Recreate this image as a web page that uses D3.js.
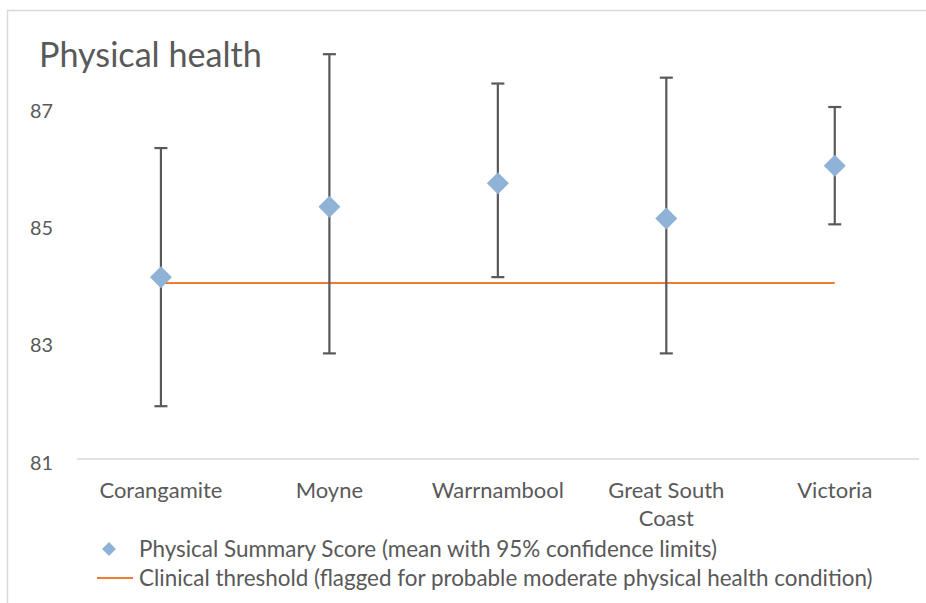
<!DOCTYPE html>
<html>
<head>
<meta charset="utf-8">
<script src="https://cdn.jsdelivr.net/npm/d3@7/dist/d3.min.js"></script>
<style>
  html, body { margin: 0; padding: 0; background: #fff; }
  svg { display: block; font-family: Lato, "Open Sans", sans-serif; }
</style>
</head>
<body>
<svg id="chart" width="926" height="603"></svg>
<script>
// Physical Summary Score by area, with 95% confidence limits
const categories = ["Corangamite", "Moyne", "Warrnambool", "Great South Coast", "Victoria"];
const means      = [84.1, 85.3, 85.7, 85.1, 86.0];
const lowerCL    = [81.9, 82.8, 84.1, 82.8, 85.0];
const upperCL    = [86.3, 87.9, 87.4, 87.5, 87.0];
const threshold  = [84, 84, 84, 84, 84];
const yTicks     = [81, 83, 85, 87];
const titleText  = "Physical health";
const legendLabels = [
  "Physical Summary Score (mean with 95% confidence limits)",
  "Clinical threshold (flagged for probable moderate physical health condition)"
];

const textColor = "#595959";
const svg = d3.select("#chart");

// outer chart frame (continues past the right and bottom edges)
svg.append("rect")
  .attr("x", 7.5).attr("y", 10.5)
  .attr("width", 960).attr("height", 640)
  .attr("fill", "none").attr("stroke", "#d9d9d9").attr("stroke-width", 1.5);

const x = d3.scaleBand().domain(categories).range([76.7, 919]);
const y = d3.scaleLinear().domain([81, 87]).range([459, 107]);
const cx = c => x(c) + x.bandwidth() / 2;

// fit a text group's font size so a reference element spans the given width
function fitWidth(sel, refNode, target, base) {
  sel.attr("font-size", base);
  const w = refNode.getComputedTextLength();
  sel.attr("font-size", base * target / w);
}

// title
const title = svg.append("text")
  .attr("x", 39).attr("y", 67)
  .attr("fill", textColor)
  .text(titleText);
fitWidth(title, title.node(), 223, 30);

// category axis line
svg.append("line")
  .attr("x1", x.range()[0]).attr("x2", x.range()[1])
  .attr("y1", y(81)).attr("y2", y(81))
  .attr("stroke", "#d9d9d9").attr("stroke-width", 1.5);

// y axis labels (no line, no ticks)
const yAxis = svg.append("g")
  .attr("transform", "translate(53,0)")
  .call(d3.axisLeft(y).tickValues(yTicks).tickSize(0).tickPadding(0).tickFormat(d3.format("d")));
yAxis.select(".domain").remove();
yAxis.selectAll("text")
  .attr("fill", textColor)
  .attr("font-family", "Lato, 'Open Sans', sans-serif")
  .attr("dy", "0.42em")
  .attr("transform", "translate(0,2)");
fitWidth(yAxis.selectAll("text"), yAxis.select("text").node(), 23, 18);

// x axis labels, wrapped within the band
const xAxis = svg.append("g")
  .attr("transform", `translate(0,${y(81)})`)
  .call(d3.axisBottom(x).tickSize(0).tickPadding(0));
xAxis.select(".domain").remove();
xAxis.selectAll("text")
  .attr("fill", textColor)
  .attr("font-family", "Lato, 'Open Sans', sans-serif")
  .attr("y", 31).attr("dy", "0.35em");
fitWidth(xAxis.selectAll("text"), xAxis.selectAll("text").nodes()[0], 123, 18);

xAxis.selectAll("text").each(function() {
  const t = d3.select(this);
  const words = t.text().split(/\s+/);
  const maxW = 150;
  t.text(null);
  let line = [];
  let tspan = t.append("tspan").attr("x", 0).attr("dy", "0.35em");
  let lineNo = 0;
  words.forEach(w => {
    line.push(w);
    tspan.text(line.join(" "));
    if (tspan.node().getComputedTextLength() > maxW && line.length > 1) {
      line.pop();
      tspan.text(line.join(" "));
      line = [w];
      lineNo++;
      tspan = t.append("tspan").attr("x", 0).attr("dy", "28px").text(w);
    }
  });
});

// clinical threshold line
const thresholdLine = d3.line()
  .x((d, i) => cx(categories[i]))
  .y(d => y(d));
svg.append("path")
  .datum(threshold)
  .attr("d", thresholdLine)
  .attr("fill", "none")
  .attr("stroke", "#ed7d31")
  .attr("stroke-width", 2.2);

// confidence interval error bars
const capHalf = 6.5;
const bars = svg.append("g").attr("stroke", "#595959").attr("stroke-width", 2.2);
categories.forEach((c, i) => {
  bars.append("line")
    .attr("x1", cx(c)).attr("x2", cx(c))
    .attr("y1", y(upperCL[i])).attr("y2", y(lowerCL[i]));
  bars.append("line")
    .attr("x1", cx(c) - capHalf).attr("x2", cx(c) + capHalf)
    .attr("y1", y(upperCL[i])).attr("y2", y(upperCL[i]));
  bars.append("line")
    .attr("x1", cx(c) - capHalf).attr("x2", cx(c) + capHalf)
    .attr("y1", y(lowerCL[i])).attr("y2", y(lowerCL[i]));
});

// diamond markers for the means
const diamond = r => `M0,${-r}L${r},0L0,${r}L${-r},0Z`;
svg.append("g").selectAll("path")
  .data(means)
  .join("path")
  .attr("d", diamond(11))
  .attr("transform", (d, i) => `translate(${cx(categories[i])},${y(d)})`)
  .attr("fill", "#8fb3d6");

// legend
const legend = svg.append("g");
legend.append("path")
  .attr("d", diamond(7))
  .attr("transform", "translate(109,549)")
  .attr("fill", "#8fb3d6");
legend.append("line")
  .attr("x1", 97).attr("x2", 133)
  .attr("y1", 578).attr("y2", 578)
  .attr("stroke", "#ed7d31").attr("stroke-width", 2.2);
const legendTexts = legend.selectAll("text")
  .data(legendLabels)
  .join("text")
  .attr("x", 139)
  .attr("y", (d, i) => 549 + i * 29)
  .attr("dy", "0.35em")
  .attr("fill", textColor)
  .text(d => d);
fitWidth(legendTexts, legendTexts.nodes()[1], 734, 18);
</script>
</body>
</html>
